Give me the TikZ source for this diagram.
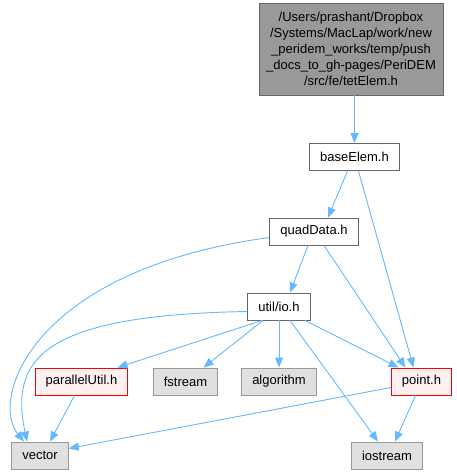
\documentclass[tikz,border=0pt]{standalone}
\usepackage{fontspec}
\setmainfont{Liberation Sans}
\usepackage{tikz}
\usetikzlibrary{positioning, calc, arrows.meta}
\definecolor{edgeblue}{HTML}{63B8FF}
\definecolor{boxline}{HTML}{666666}
\definecolor{sysline}{HTML}{999999}
\definecolor{sysfill}{HTML}{E0E0E0}
\definecolor{redfill}{HTML}{FFF0F0}

\begin{document}
\begin{tikzpicture}[x=1pt, y=-1pt,
		file/.style={draw=boxline, fill=white, line width=0.9pt, minimum height=27pt, inner xsep=10.5pt, font=\fontsize{13}{16}\selectfont},
		sysfile/.style={file, draw=sysline, fill=sysfill},
		redfile/.style={file, draw=red, fill=redfill},
		topfile/.style={file, fill=sysline, text width=176pt, align=center, minimum height=92pt, inner xsep=4pt},
		dep/.style={-{Triangle[length=10pt, width=8pt]}, edgeblue, line width=0.9pt}
	]
			\useasboundingbox (0,0) rectangle (457,475);

			\node[topfile] (tet) at (351,49) {/Users/prashant/Dropbox\\/Systems/MacLap/work/new\\\_peridem\_works/temp/push\\\_docs\_to\_gh-pages/PeriDEM\\/src/fe/tetElem.h};
			\node[file] (base) at (354.5,157) {baseElem.h};
			\node[file] (quad) at (314,231.5) {quadData.h};
			\node[file] (io) at (279,306.5) {util/io.h};
			\node[redfile] (par) at (81.5,381.5) {parallelUtil.h};
			\node[sysfile] (fs) at (185.5,381.5) {fstream};
			\node[sysfile] (alg) at (279,381.5) {algorithm};
			\node[redfile] (point) at (421.5,381.5) {point.h};
			\node[sysfile] (vec) at (40,455.5) {vector};
			\node[sysfile] (ios) at (387,455.5) {iostream};

			\draw[dep] (tet.south -| base) -- (base.north);

			\draw[dep] ([xshift=-7pt]base.south) -- ([xshift=14pt]quad.north);
			\draw[dep] ([xshift=4pt]base.south) -- ([xshift=-8pt]point.north);

			\draw[dep] ($(quad.west)+(0,6)$) .. controls (30,270) and (-10,400) .. ([xshift=-16pt]vec.north);
			\draw[dep] ([xshift=-6pt]quad.south) -- ([xshift=11pt]io.north);
			\draw[dep] ([xshift=10pt]quad.south) -- ([xshift=-16pt]point.north);

			\draw[dep] ($(io.west)+(0,5)$) .. controls (40,315) and (10,360) .. ([xshift=-13pt]vec.north);
			\draw[dep] ([xshift=-17pt]io.south) -- ([xshift=36pt]par.north);
			\draw[dep] ([xshift=-16pt]io.south) -- ([xshift=18pt]fs.north);
			\draw[dep] (io.south) -- (alg.north);
			\draw[dep] ([xshift=11pt]io.south) -- ([xshift=-9pt]ios.north);
			\draw[dep] ([xshift=26pt]io.south) -- ([xshift=-23pt]point.north);

			\draw[dep] ([xshift=-7pt]par.south) -- ([xshift=10pt]vec.north);

			\draw[dep] ($(point.west)+(0,6)$) -- ($(vec.east)+(0,-7)$);
			\draw[dep] ([xshift=-6pt]point.south) -- ([xshift=8pt]ios.north);

		\end{tikzpicture}
\end{document}
